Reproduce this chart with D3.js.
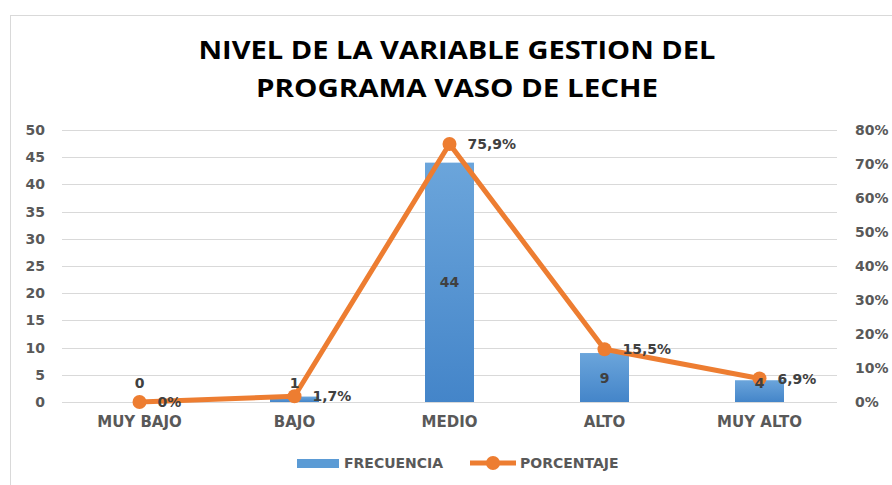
<!DOCTYPE html>
<html>
<head>
<meta charset="utf-8">
<script src="https://cdn.jsdelivr.net/npm/d3@7"></script>
<style>
  body { margin: 0; background: #fff; }
  svg { display: block; font-family: "DejaVu Sans", sans-serif; }
</style>
</head>
<body>
<div id="chart"></div>
<script>
// Data
var categories = ["MUY BAJO", "BAJO", "MEDIO", "ALTO", "MUY ALTO"];
var frecuencia = [0, 1, 44, 9, 4];
var porcentaje = [0, 1.7, 75.9, 15.5, 6.9];
var leftTicks = [0, 5, 10, 15, 20, 25, 30, 35, 40, 45, 50];
var rightTicks = [0, 10, 20, 30, 40, 50, 60, 70, 80];
var titleLines = ["NIVEL DE LA VARIABLE GESTION DEL", "PROGRAMA VASO DE LECHE"];
var titleWidths = [517, 402];

var width = 892, height = 485;
var plot = { left: 62, right: 837, top: 130, bottom: 402 };
var blue = "#5B9BD5", orange = "#ED7D31", axisGray = "#595959", labelGray = "#404040";
var labelFont = "DejaVu Sans, sans-serif";

var svg = d3.select("#chart").append("svg")
    .attr("width", width)
    .attr("height", height);

var defs = svg.append("defs");
var grad = defs.append("linearGradient").attr("id", "barGrad")
    .attr("x1", 0).attr("y1", 0).attr("x2", 0).attr("y2", 1);
grad.append("stop").attr("offset", "0%").attr("stop-color", "#6BA5DB");
grad.append("stop").attr("offset", "100%").attr("stop-color", "#4485C9");

// Chart frame
svg.append("rect")
    .attr("x", 10.5).attr("y", 15.5)
    .attr("width", 900).attr("height", 500)
    .attr("fill", "none")
    .attr("stroke", "#d9d9d9");

// Title
svg.append("g").selectAll("text")
    .data(titleLines)
    .enter().append("text")
    .attr("x", 457)
    .attr("y", function(d, i) { return 59 + i * 38; })
    .attr("text-anchor", "middle")
    .attr("font-family", "Open Sans, sans-serif")
    .attr("font-size", 25)
    .attr("font-weight", "bold")
    .attr("fill", "#000")
    .attr("textLength", function(d, i) { return titleWidths[i]; })
    .attr("lengthAdjust", "spacingAndGlyphs")
    .text(function(d) { return d; });

// Scales
var x = d3.scaleBand().domain(categories).range([plot.left, plot.right]);
var yL = d3.scaleLinear().domain([0, 50]).range([plot.bottom, plot.top]);
var yR = d3.scaleLinear().domain([0, 80]).range([plot.bottom, plot.top]);

function cx(i) { return x(categories[i]) + x.bandwidth() / 2; }

// Gridlines
svg.append("g").selectAll("line")
    .data(leftTicks)
    .enter().append("line")
    .attr("x1", plot.left).attr("x2", plot.right)
    .attr("y1", function(d) { return Math.round(yL(d)) + 0.5; })
    .attr("y2", function(d) { return Math.round(yL(d)) + 0.5; })
    .attr("stroke", "#d9d9d9")
    .attr("stroke-width", 1);

function styleAxisText(size) {
    return function(g) {
        g.select(".domain").remove();
        g.selectAll("text")
            .attr("font-size", size).attr("font-weight", "bold")
            .attr("fill", axisGray).attr("font-family", labelFont);
    };
}

// Left axis
svg.append("g")
    .attr("transform", "translate(" + (plot.left - 17) + ",0)")
    .call(d3.axisLeft(yL).tickValues(leftTicks).tickSize(0).tickPadding(0))
    .call(styleAxisText(14));

// Right axis
svg.append("g")
    .attr("transform", "translate(" + (plot.right + 18) + ",0)")
    .call(d3.axisRight(yR).tickValues(rightTicks).tickSize(0).tickPadding(0)
        .tickFormat(function(d) { return d + "%"; }))
    .call(styleAxisText(14));

// Category labels
svg.append("g")
    .attr("transform", "translate(0," + (plot.bottom + 14) + ")")
    .call(d3.axisBottom(x).tickSize(0).tickPadding(0))
    .call(styleAxisText(15));

// Bars
var barW = 49;
svg.append("g").selectAll("rect")
    .data(frecuencia)
    .enter().append("rect")
    .attr("x", function(d, i) { return cx(i) - barW / 2; })
    .attr("y", function(d) { return yL(d); })
    .attr("width", barW)
    .attr("height", function(d) { return plot.bottom - yL(d); })
    .attr("fill", "url(#barGrad)");

// Line
var line = d3.line()
    .x(function(d, i) { return cx(i); })
    .y(function(d) { return yR(d); });

svg.append("path")
    .datum(porcentaje)
    .attr("d", line)
    .attr("fill", "none")
    .attr("stroke", orange)
    .attr("stroke-width", 5)
    .attr("stroke-linejoin", "round");

svg.append("g").selectAll("circle")
    .data(porcentaje)
    .enter().append("circle")
    .attr("cx", function(d, i) { return cx(i); })
    .attr("cy", function(d) { return yR(d); })
    .attr("r", 7)
    .attr("fill", orange);

// Frequency labels
svg.append("g").selectAll("text")
    .data(frecuencia)
    .enter().append("text")
    .attr("x", function(d, i) { return cx(i); })
    .attr("y", function(d) {
        var mid = (yL(d) + plot.bottom) / 2;
        return Math.min(mid, plot.bottom - 19);
    })
    .attr("dy", "0.36em")
    .attr("text-anchor", "middle")
    .attr("font-family", labelFont)
    .attr("font-size", 14).attr("font-weight", "bold")
    .attr("fill", labelGray)
    .text(function(d) { return d; });

// Percentage labels
svg.append("g").selectAll("text")
    .data(porcentaje)
    .enter().append("text")
    .attr("x", function(d, i) { return cx(i) + 18; })
    .attr("y", function(d) { return yR(d); })
    .attr("dy", "0.36em")
    .attr("font-family", labelFont)
    .attr("font-size", 14).attr("font-weight", "bold")
    .attr("fill", labelGray)
    .text(function(d) { return String(d).replace(".", ",") + "%"; });

// Legend
var legend = svg.append("g").attr("transform", "translate(0,463)");
legend.append("rect")
    .attr("x", 297).attr("y", -4).attr("width", 42).attr("height", 9)
    .attr("fill", blue);
legend.append("text")
    .attr("x", 344).attr("y", 0).attr("dy", "0.36em")
    .attr("font-family", labelFont)
    .attr("font-size", 14).attr("font-weight", "bold").attr("fill", axisGray)
    .text("FRECUENCIA");
legend.append("line")
    .attr("x1", 470).attr("x2", 516).attr("y1", 0).attr("y2", 0)
    .attr("stroke", orange).attr("stroke-width", 5);
legend.append("circle")
    .attr("cx", 493).attr("cy", 0).attr("r", 7).attr("fill", orange);
legend.append("text")
    .attr("x", 520).attr("y", 0).attr("dy", "0.36em")
    .attr("font-family", labelFont)
    .attr("font-size", 14).attr("font-weight", "bold").attr("fill", axisGray)
    .text("PORCENTAJE");
</script>
</body>
</html>
